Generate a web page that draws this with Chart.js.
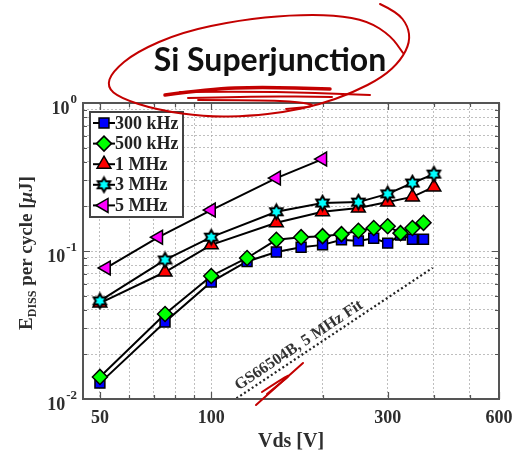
<!DOCTYPE html>
<html><head><meta charset="utf-8">
<script src="https://cdn.jsdelivr.net/npm/chart.js@4.4.0/dist/chart.umd.min.js"></script>
<style>html,body{margin:0;padding:0;background:#fff;}canvas{display:block;}</style>
</head><body>
<canvas id="c" width="514" height="454"></canvas>
<script>
// ---------- texts ----------
const chartTitle = 'Si Superjunction';
const xAxisTitle = 'Vds [V]';
const legendLabels = ['300 kHz', '500 kHz', '1 MHz', '3 MHz', '5 MHz'];
const fitLabel = 'GS66504B, 5 MHz Fit';

// ---------- axes ----------
const xMin = 45, xMax = 600;
const yMin = 0.01, yMax = 1;
const xGridValues = [50, 60, 70, 80, 90, 100, 200, 300, 400, 500, 600];
const xTickLabels = [50, 100, 300, 600];
const yGridValues = [0.01, 0.02, 0.03, 0.04, 0.05, 0.06, 0.07, 0.08, 0.09,
                     0.1, 0.2, 0.3, 0.4, 0.5, 0.6, 0.7, 0.8, 0.9, 1];
const yTickDecades = [0.01, 0.1, 1];
const yTickExponents = ['-2', '-1', '0'];

// ---------- data ----------
const vds300k = [50, 75, 100, 125, 150, 175, 200, 225, 250, 275, 300, 325, 350, 375];
const e300k   = [0.0128, 0.0331, 0.0618, 0.085, 0.0985, 0.106, 0.110, 0.119, 0.117, 0.122, 0.113, 0.128, 0.120, 0.120];
const vds500k = [50, 75, 100, 125, 150, 175, 200, 225, 250, 275, 300, 325, 350, 375];
const e500k   = [0.0141, 0.0375, 0.0678, 0.0897, 0.119, 0.124, 0.126, 0.130, 0.137, 0.143, 0.147, 0.132, 0.143, 0.155];
const vds1M   = [50, 75, 100, 150, 200, 250, 300, 350, 400];
const e1M     = [0.0445, 0.0721, 0.110, 0.155, 0.184, 0.195, 0.214, 0.232, 0.271];
const vds3M   = [50, 75, 100, 150, 200, 250, 300, 350, 400];
const e3M     = [0.046, 0.087, 0.124, 0.184, 0.211, 0.214, 0.243, 0.288, 0.331];
const vds5M   = [52, 72, 100, 150, 200];
const e5M     = [0.0768, 0.124, 0.189, 0.311, 0.418];
const fitVds  = [117, 397];
const fitE    = [0.0101, 0.077];

// ---------- helpers ----------
const SERIF = '"Liberation Serif","Times New Roman",serif';
const pts = (xs, ys) => xs.map((v, i) => ({x: v, y: ys[i]}));

function makeHexagram(R, fill) {
  const s = Math.ceil(2 * R + 4);
  const c = document.createElement('canvas');
  c.width = s; c.height = s;
  const g = c.getContext('2d');
  const cx = s / 2, cy = s / 2, r = R / Math.sqrt(3);
  g.beginPath();
  for (let k = 0; k < 12; k++) {
    const a = -Math.PI / 2 + k * Math.PI / 6;
    const rr = k % 2 === 0 ? R : r;
    g.lineTo(cx + rr * Math.cos(a), cy + rr * Math.sin(a));
  }
  g.closePath();
  g.fillStyle = fill; g.fill();
  g.lineWidth = 2; g.strokeStyle = '#000'; g.stroke();
  return c;
}
const hexStar = makeHexagram(7.2, '#00ffff');

function series(label, xs, ys, style, color, radius, rotation, order) {
  return {
    label, data: pts(xs, ys), order,
    borderColor: '#000', borderWidth: 2, showLine: true, tension: 0,
    pointStyle: style, pointRadius: radius, pointRotation: rotation,
    pointBackgroundColor: color, pointBorderColor: '#000', pointBorderWidth: 1.5
  };
}

const dsList = [
  series(legendLabels[0], vds300k, e300k, 'rect', '#0000ff', 7, 0, 5),
  series(legendLabels[1], vds500k, e500k, 'rectRot', '#00ff00', 7.5, 0, 4),
  series(legendLabels[2], vds1M, e1M, 'triangle', '#ff0000', 8, 0, 3),
  series(legendLabels[3], vds3M, e3M, hexStar, '#00ffff', 7, 0, 2),
  series(legendLabels[4], vds5M, e5M, 'triangle', '#ff00ff', 8, -90, 1)
];
const fitDs = {
  label: 'fit', data: pts(fitVds, fitE), order: 6,
  borderColor: '#222', borderWidth: 2.2, borderDash: [2, 2.6], pointRadius: 0, showLine: true
};

// ---------- annotation strokes (red pen) ----------
const penLoop = [[380,4],[397,12],[408,26],[410,42],[401,60],[383,77],[352,93],[318,105],[285,112],[250,116],[207,117],[157,110],[120,98],[107,87],[112,72],[136,52],[182,32],[240,20],[290,15],[335,15],[368,21],[391,36],[403,53]];
const penUnder = [
  {w: 3.5, p: [[165,95],[210,89],[260,87],[330,89]]},
  {w: 2, p: [[180,92],[260,91],[370,95]]},
  {w: 2, p: [[188,98],[260,96],[332,97]]},
  {w: 1.8, p: [[198,100],[260,100],[300,102],[318,106],[286,109]]}
];
const penSquiggle = [
  {w: 2, p: [[256,405],[303,363]]},
  {w: 2, p: [[262,392],[300,367],[267,394]]}
];

function smoothStroke(ctx, p) {
  ctx.beginPath();
  ctx.moveTo(p[0][0], p[0][1]);
  if (p.length < 3) { for (let i = 1; i < p.length; i++) ctx.lineTo(p[i][0], p[i][1]); }
  else {
    for (let i = 1; i < p.length - 1; i++) {
      const mx = (p[i][0] + p[i+1][0]) / 2, my = (p[i][1] + p[i+1][1]) / 2;
      ctx.quadraticCurveTo(p[i][0], p[i][1], mx, my);
    }
    const l = p[p.length - 1];
    ctx.lineTo(l[0], l[1]);
  }
  ctx.stroke();
}

function drawMarker(ctx, ds, x, y) {
  const st = ds.pointStyle, r = ds.pointRadius;
  const rot = (ds.pointRotation || 0) * Math.PI / 180;
  ctx.save();
  if (st instanceof HTMLCanvasElement) {
    ctx.drawImage(st, x - st.width / 2, y - st.height / 2);
    ctx.restore(); return;
  }
  ctx.fillStyle = ds.pointBackgroundColor;
  ctx.strokeStyle = ds.pointBorderColor;
  ctx.lineWidth = ds.pointBorderWidth;
  ctx.beginPath();
  if (st === 'rect') {
    const s = Math.SQRT1_2 * r; ctx.rect(x - s, y - s, 2 * s, 2 * s);
  } else if (st === 'rectRot') {
    ctx.moveTo(x - r, y); ctx.lineTo(x, y - r); ctx.lineTo(x + r, y); ctx.lineTo(x, y + r); ctx.closePath();
  } else if (st === 'triangle') {
    let a = rot;
    for (let k = 0; k < 3; k++) {
      const px = x + Math.sin(a) * r, py = y - Math.cos(a) * r;
      if (k) ctx.lineTo(px, py); else ctx.moveTo(px, py);
      a += 2 * Math.PI / 3;
    }
    ctx.closePath();
  }
  ctx.fill(); ctx.stroke();
  ctx.restore();
}

const decor = {
  id: 'decor',
  beforeDraw(chart) {
    const ctx = chart.ctx;
    ctx.save(); ctx.fillStyle = '#fff'; ctx.fillRect(0, 0, chart.width, chart.height); ctx.restore();
  },
  afterDraw(chart) {
    const ctx = chart.ctx, a = chart.chartArea;
    const xs = chart.scales.x, ys = chart.scales.y;
    ctx.save();
    // frame
    ctx.strokeStyle = '#555'; ctx.lineWidth = 2;
    ctx.strokeRect(a.left, a.top, a.right - a.left, a.bottom - a.top);
    // inner ticks
    ctx.lineWidth = 1.2; ctx.strokeStyle = '#555';
    ctx.beginPath();
    xGridValues.forEach(v => {
      const px = Math.round(xs.getPixelForValue(v)) + 0.5;
      const L = xTickLabels.includes(v) ? 7 : 4;
      ctx.moveTo(px, a.bottom); ctx.lineTo(px, a.bottom - L);
      ctx.moveTo(px, a.top); ctx.lineTo(px, a.top + L);
    });
    yGridValues.forEach(v => {
      const py = Math.round(ys.getPixelForValue(v)) + 0.5;
      const L = yTickDecades.includes(v) ? 7 : 4;
      ctx.moveTo(a.left, py); ctx.lineTo(a.left + L, py);
      ctx.moveTo(a.right, py); ctx.lineTo(a.right - L, py);
    });
    ctx.stroke();

    // x tick labels
    ctx.fillStyle = '#2e2e2e';
    ctx.font = 'bold 18px ' + SERIF;
    ctx.textAlign = 'center'; ctx.textBaseline = 'middle';
    xTickLabels.forEach(v => ctx.fillText(String(v), xs.getPixelForValue(v), a.bottom + 19));

    // y tick labels 10^n
    yTickDecades.forEach((v, i) => {
      const py = ys.getPixelForValue(v);
      const right = a.left - 6;
      ctx.font = 'bold 13px ' + SERIF;
      const ew = ctx.measureText(yTickExponents[i]).width;
      ctx.textAlign = 'left'; ctx.textBaseline = 'middle';
      ctx.fillText(yTickExponents[i], right - ew, py - 3);
      ctx.font = 'bold 18px ' + SERIF;
      ctx.textAlign = 'right';
      ctx.fillText('10', right - ew - 1, py + 6);
    });

    // x axis title
    ctx.font = 'bold 20px ' + SERIF;
    ctx.textAlign = 'center'; ctx.textBaseline = 'middle';
    ctx.fillText(xAxisTitle, (a.left + a.right) / 2, a.bottom + 43);

    // y axis title with subscript
    const parts = [
      {t: 'E', f: 'bold 19px ' + SERIF, dy: 0},
      {t: 'DISS', f: 'bold 12px ' + SERIF, dy: 4},
      {t: ' per cycle [', f: 'bold 19px ' + SERIF, dy: 0},
      {t: 'μ', f: 'italic bold 19px ' + SERIF, dy: 0},
      {t: 'J]', f: 'bold 19px ' + SERIF, dy: 0}
    ];
    let total = 0;
    parts.forEach(p => { ctx.font = p.f; p.w = ctx.measureText(p.t).width; total += p.w; });
    ctx.save();
    ctx.translate(32, (a.top + a.bottom) / 2 + 2);
    ctx.rotate(-Math.PI / 2);
    ctx.textAlign = 'left'; ctx.textBaseline = 'alphabetic';
    let cx = -total / 2;
    parts.forEach(p => { ctx.font = p.f; ctx.fillText(p.t, cx, p.dy); cx += p.w; });
    ctx.restore();

    // fit label along the dotted line
    const p1x = xs.getPixelForValue(fitVds[0]), p1y = ys.getPixelForValue(fitE[0]);
    const p2x = xs.getPixelForValue(fitVds[1]), p2y = ys.getPixelForValue(fitE[1]);
    const ang = Math.atan2(p2y - p1y, p2x - p1x);
    const f = 0.345;
    const tx = p1x + f * (p2x - p1x) + 9.5 * Math.sin(ang);
    const ty = p1y + f * (p2y - p1y) - 9.5 * Math.cos(ang);
    ctx.save();
    ctx.translate(tx, ty); ctx.rotate(ang);
    ctx.font = 'bold 16px ' + SERIF; ctx.fillStyle = '#333';
    ctx.textAlign = 'center'; ctx.textBaseline = 'middle';
    ctx.fillText(fitLabel, 0, 0);
    ctx.restore();

    // legend
    const lx = 90, ly = 112, lw = 93, lh = 105;
    ctx.fillStyle = '#fff'; ctx.fillRect(lx, ly, lw, lh);
    ctx.strokeStyle = '#444'; ctx.lineWidth = 2; ctx.strokeRect(lx, ly, lw, lh);
    dsList.forEach((ds, i) => {
      const y = ly + 11 + i * 20.6;
      ctx.strokeStyle = '#000'; ctx.lineWidth = 2;
      ctx.beginPath(); ctx.moveTo(lx + 3, y); ctx.lineTo(lx + 25, y); ctx.stroke();
      drawMarker(ctx, ds, lx + 14, y);
      ctx.fillStyle = '#222';
      ctx.font = 'bold 18px ' + SERIF;
      ctx.textAlign = 'left'; ctx.textBaseline = 'middle';
      ctx.fillText(ds.label, lx + 25, y + 1);
    });

    // title
    ctx.fillStyle = '#111';
    ctx.font = 'bold 32px Lato, "Liberation Sans", sans-serif';
    ctx.textAlign = 'center'; ctx.textBaseline = 'alphabetic';
    ctx.fillText(chartTitle, 270, 71);

    // red pen annotations
    ctx.strokeStyle = 'rgb(195,0,0)'; ctx.lineCap = 'round'; ctx.lineJoin = 'round';
    ctx.lineWidth = 2; smoothStroke(ctx, penLoop);
    penUnder.concat(penSquiggle).forEach(s => { ctx.lineWidth = s.w; smoothStroke(ctx, s.p); });
    ctx.restore();
  }
};

const gridCfg = {color: 'rgba(170,170,170,0.75)', lineWidth: 1, drawTicks: false};

new Chart(document.getElementById('c'), {
  type: 'scatter',
  data: {datasets: [fitDs].concat(dsList)},
  options: {
    responsive: false, animation: false, events: [],
    layout: {padding: {left: 83, right: 15, top: 103, bottom: 55}},
    plugins: {legend: {display: false}, tooltip: {enabled: false}, title: {display: false}},
    scales: {
      x: {
        type: 'logarithmic', min: xMin, max: xMax,
        afterBuildTicks: s => { s.ticks = xGridValues.map(v => ({value: v})); },
        ticks: {display: false}, grid: gridCfg,
        border: {display: false, dash: [2, 2]}
      },
      y: {
        type: 'logarithmic', min: yMin, max: yMax,
        afterBuildTicks: s => { s.ticks = yGridValues.map(v => ({value: v})); },
        ticks: {display: false}, grid: gridCfg,
        border: {display: false, dash: [2, 2]}
      }
    }
  },
  plugins: [decor]
});
</script>
</body></html>
